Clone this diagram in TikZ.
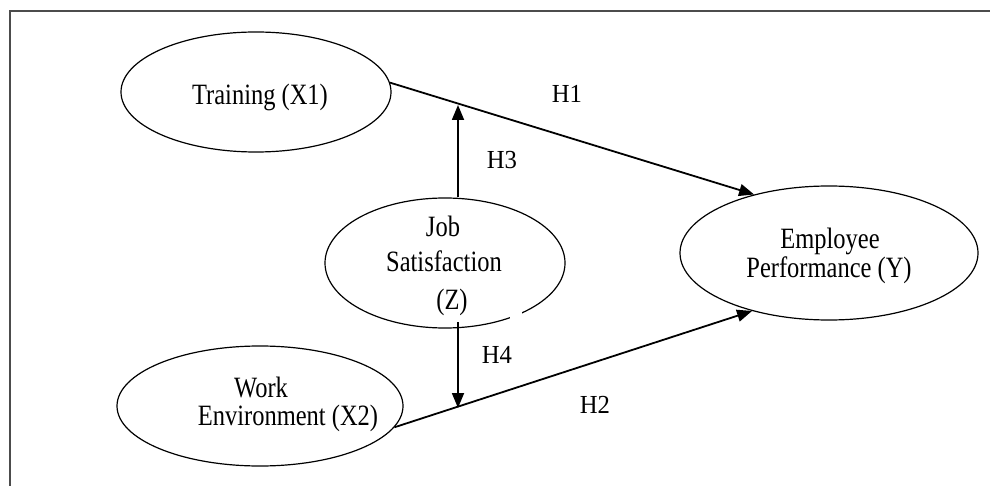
\documentclass[tikz,border=0pt]{standalone}
\usepackage{fontspec}
\usetikzlibrary{shapes.geometric,arrows.meta}
\newfontfamily\dfont[FakeStretch=0.83]{Liberation Serif}
\newfontfamily\lfont[FakeStretch=0.95]{Liberation Serif}
\begin{document}
\begin{tikzpicture}[x=1pt,y=-1pt,
  ell/.style={draw, ellipse, line width=1.2pt, inner sep=0pt},
  txt/.style={font=\dfont\fontsize{29.5}{31}\selectfont, anchor=base, inner sep=0pt},
  lab/.style={font=\lfont\fontsize{26}{28}\selectfont, anchor=base, inner sep=0pt},
  arr/.style={line width=1.8pt, -{Triangle[length=15pt,width=12pt]}}]
\useasboundingbox (0,0) rectangle (990,486);
\draw[line width=2pt, black!70] (10,486) -- (10,11) -- (990,11);
% ellipses
\node[ell, minimum width=270pt, minimum height=120pt] (tr) at (256,92) {};
\node[ell, minimum width=240pt, minimum height=130pt] (js) at (445,263) {};
\node[ell, minimum width=298pt, minimum height=134pt] (emp) at (829,253) {};
\node[ell, minimum width=286pt, minimum height=120pt] (we) at (260,406) {};
\fill[white] (510,308) rectangle (522,320);
% texts
\node[txt] (ttr) at (260,105) {Training (X1)};
\node[txt] (tj1) at (443,237) {Job};
\node[txt] (tj2) at (444,272) {Satisfaction};
\node[txt] (tj3) at (452,309) {(Z)};
\node[txt] (te1) at (830,249) {Employee};
\node[txt] (te2) at (829,278) {Performance (Y)};
\node[txt] (tw1) at (261,397) {Work};
\node[txt] (tw2) at (288,425) {Environment (X2)};
% labels
\node[lab] (l1) at (567,103) {H1};
\node[lab] (l3) at (502,169) {H3};
\node[lab] (l4) at (497,363) {H4};
\node[lab] (l2) at (595,413) {H2};
% connectors
\coordinate (h1m) at (458,105);
\coordinate (h2m) at (458,408);
\coordinate (zb) at (458,322);
\draw[arr] (tr.4) -- (emp.142);
\draw[arr] (we.351) -- (emp.217);
\draw[arr] (js.north -| h1m) -- (h1m);
\draw[arr] (zb) -- (h2m);
\end{tikzpicture}
\end{document}
